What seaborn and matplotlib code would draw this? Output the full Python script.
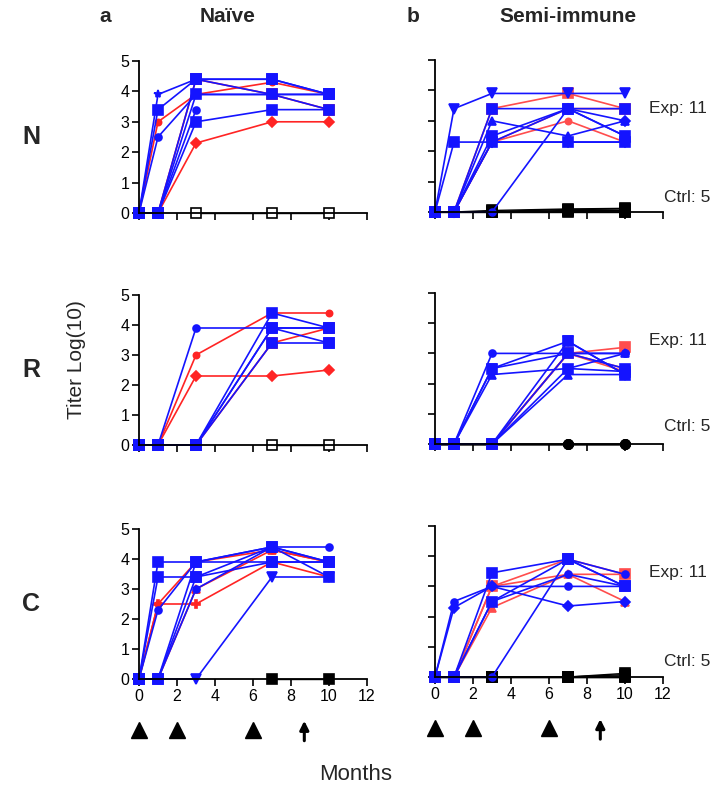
"""Antibody titer time courses, naive vs semi-immune, panels N / R / C."""
import matplotlib
matplotlib.use("Agg")
import matplotlib.pyplot as plt
import seaborn as sns

sns.set_style("ticks")
plt.rcParams["font.family"] = ["Liberation Sans", "DejaVu Sans"]

MONTHS = [0, 1, 3, 7, 10]
BOOST_MONTHS = [0, 2, 6]
CHALLENGE_MONTH = 8.7
ROWS = ["N", "R", "C"]
GROUPS = ["Naïve", "Semi-immune"]
PANEL_LETTERS = ["a", "b"]
EXP_LABEL = "Exp: 11"
CTRL_LABEL = "Ctrl: 5"

# --- naive, N ---
naive_n_blue = [
    [0, 3.9, 4.4, 3.9, 3.4],
    [0, 3.4, 4.4, 4.4, 3.9],
    [0, 2.5, 3.9, 3.9, 3.9],
    [0, 0, 4.4, 4.4, 3.9],
    [0, 0, 3.9, 3.9, 3.9],
    [0, 0, 3.4, None, None],
    [0, 0, 3.0, 3.4, 3.4],
]
naive_n_red = [
    [0, 3.0, 3.9, 4.3, 3.9],
    [0, 0, 4.4, 3.9, 3.4],
    [0, 0, 2.3, 3.0, 3.0],
]
naive_n_ctrl = [[None, None, 0, 0, 0]]

# --- semi-immune, N ---
semi_n_blue = [
    [0, 3.4, 3.9, 3.9, 3.9],
    [0, 2.3, 2.3, 2.3, 2.3],
    [0, 0, 3.4, 3.4, 3.4],
    [0, 0, 3.0, 2.5, 3.0],
    [0, 0, 2.5, 3.4, 2.5],
    [0, 0, 2.3, 3.4, 3.0],
    [0, 0, 2.3, 2.3, 2.3],
    [0, 0, 0, 3.4, 2.5],
]
semi_n_red = [
    [0, 0, 3.4, 3.9, 3.4],
    [0, 0, 2.3, 3.0, 2.3],
    [0, 0, 2.3, 3.4, 3.4],
]
semi_n_ctrl = [
    [0, 0, 0.05, 0.1, 0.12],
    [0, 0, 0.02, 0.08, 0.1],
    [0, 0, 0, 0.05, 0.05],
    [0, 0, 0, 0.02, 0],
    [0, 0, 0, 0, 0],
]

# --- naive, R ---
naive_r_blue = [
    [0, 0, 3.9, 3.9, 3.9],
    [0, 0, 0, 4.4, 3.9],
    [0, 0, 0, 3.9, 3.4],
    [0, 0, 0, 3.4, 3.4],
    [0, 0, 0, 3.9, 3.9],
]
naive_r_red = [
    [0, 0, 3.0, 4.4, 4.4],
    [0, 0, 2.3, 2.3, 2.5],
    [0, 0, 0, 3.4, 3.9],
]
naive_r_ctrl = [[None, None, None, 0, 0]]

# --- semi-immune, R ---
semi_r_blue = [
    [0, 0, 3.0, 3.0, 3.0],
    [0, 0, 2.5, 3.4, 2.3],
    [0, 0, 2.5, 3.0, 2.5],
    [0, 0, 2.3, 2.5, 3.0],
    [0, 0, 0, 3.4, 2.3],
    [0, 0, 0, 2.3, 2.3],
    [0, 0, 0, 2.5, 2.4],
    [0, 0, 0, 3.0, 3.0],
]
semi_r_red = [
    [0, 0, 0, 3.0, 3.2],
    [0, 0, 0, 3.0, 2.4],
    [0, 0, 0, 3.0, 2.5],
]
semi_r_ctrl = [[0, 0, 0, 0, 0]] * 5

# --- naive, C ---
naive_c_blue = [
    [0, 3.9, 3.9, 3.9, 3.9],
    [0, 3.4, 3.4, 4.4, 3.9],
    [0, 2.3, 3.9, 4.4, 4.4],
    [0, 0, 3.9, 4.4, 3.4],
    [0, 0, 3.4, 3.9, 3.9],
    [0, 0, 3.0, 4.4, 3.9],
    [0, 0, 0, 3.4, 3.4],
]
naive_c_red = [
    [0, 2.5, 3.9, 4.3, 3.9],
    [0, 2.5, 2.5, 3.9, 3.4],
    [0, 0, 3.0, 4.3, 3.9],
]
naive_c_ctrl = [[None, None, None, 0, 0]]

# --- semi-immune, C ---
semi_c_blue = [
    [0, 2.5, 3.0, 3.0, 3.0],
    [0, 2.3, 3.0, 2.35, 2.5],
    [0, 0, 3.45, 3.9, 3.0],
    [0, 0, 2.5, 3.4, 3.0],
    [0, 0, 2.5, 3.9, 3.0],
    [0, 0, 0, 3.9, 3.4],
]
semi_c_red = [
    [0, 0, 3.0, 3.9, 3.4],
    [0, 0, 2.3, 3.4, 2.5],
    [0, 0, 3.0, 3.4, 3.4],
]
semi_c_ctrl = [
    [0, 0, 0, 0, 0.12],
    [0, 0, 0, 0, 0.08],
    [0, 0, 0, 0, 0.04],
    [0, 0, 0, 0, 0],
    [0, 0, 0, 0, 0],
]

PANELS = [
    [(naive_n_blue, naive_n_red, naive_n_ctrl), (semi_n_blue, semi_n_red, semi_n_ctrl)],
    [(naive_r_blue, naive_r_red, naive_r_ctrl), (semi_r_blue, semi_r_red, semi_r_ctrl)],
    [(naive_c_blue, naive_c_red, naive_c_ctrl), (semi_c_blue, semi_c_red, semi_c_ctrl)],
]

# marker style per line (blue list, red list), same order as the data
MARKERS = [
    [(["*", "s", "o", "s", "s", "o", "s"], ["o", "s", "D"]),
     (["v", "s", "s", "^", "s", "D", "D", "o"], ["s", "o", "o"])],
    [(["o", "s", "s", "s", "s"], ["o", "D", "s"]),
     (["o", "v", "s", "^", "s", "^", "s", "o"], ["s", "o", "^"])],
    [(["s", "s", "o", "s", "s", "o", "v"], ["o", "P", "^"]),
     (["o", "D", "s", "o", "s", "o"], ["s", "^", "o"])],
]
SMALL = {"o": 5, "*": 6, "P": 6, "D": 5.5, "^": 6, "v": 6.5, "s": 7}

BLUE = "#1414ff"
RED = "#ff2424"
RED_LIGHT = "#ff4d4d"


def draw_line(ax, values, color, marker, ms=6, mfc=None, mec=None, lw=1.2):
    pts = [(m, v) for m, v in zip(MONTHS, values) if v is not None]
    xs = [p[0] for p in pts]
    ys = [p[1] for p in pts]
    sns.lineplot(
        x=xs, y=ys, ax=ax, color=color, marker=marker, markersize=ms,
        markerfacecolor=mfc or color, markeredgecolor=mec or color,
        markeredgewidth=1.2, linewidth=lw, errorbar=None, sort=False,
        clip_on=False,
    )


W, H = 711, 791
fig = plt.figure(figsize=(W / 100, H / 100), dpi=100)

col_left = [139, 435]
row_top = [[(61, 213), (295, 445), (529, 679)],
           [(60, 212), (293, 444), (526, 677)]]
ax_w = 228
exp_y = [108, 341, 572]
ctrl_y = [197, 427, 661]

for r in range(3):
    for c, left in enumerate(col_left):
        top, bottom = row_top[c][r]
        ax = fig.add_axes([left / W, 1 - bottom / H, ax_w / W, (bottom - top) / H])
        blue, red, ctrl = PANELS[r][c]
        blue_m, red_m = MARKERS[r][c]
        open_ctrl = (c == 0 and r < 2)
        for vals in ctrl:
            draw_line(ax, vals, "black", "o" if (c == 1 and r == 1) else "s",
                      ms=6.5, mfc="white" if open_ctrl else "black",
                      mec="black", lw=1.0)
        for vals, m in zip(red, red_m):
            draw_line(ax, vals, RED if c == 0 else RED_LIGHT, m, ms=SMALL[m] - 0.5, lw=1.2)
        for vals, m in zip(blue, blue_m):
            draw_line(ax, vals, BLUE, m, ms=SMALL[m])

        ax.set_xlim(0, 12)
        ax.set_ylim(0, 5)
        ax.set_xticks(range(0, 13, 2))
        ax.set_yticks(range(0, 6))
        sns.despine(ax=ax)
        for side in ["left", "bottom"]:
            ax.spines[side].set_linewidth(1.3)
            ax.spines[side].set_color("black")
        ax.tick_params(length=5, width=1.2, labelsize=11.5, pad=2, colors="black")
        if c == 1:
            ax.set_yticklabels([])
        if r < 2:
            ax.set_xticklabels([])
        ax.set_xlabel("")
        ax.set_ylabel("")

        if c == 1:
            fig.text(678 / W, 1 - exp_y[r] / H, EXP_LABEL, ha="center", va="center", fontsize=12.5)
            fig.text(687 / W, 1 - ctrl_y[r] / H, CTRL_LABEL, ha="center", va="center", fontsize=12.5)
        else:
            fig.text(31 / W, 1 - (top + bottom) / 2 / H, ROWS[r], ha="center", va="center",
                     fontsize=18, fontweight="bold")

        if r == 2:
            ax.plot(BOOST_MONTHS, [-1.7] * len(BOOST_MONTHS), "^", color="black",
                    markersize=12, clip_on=False)
            ax.annotate("", xy=(CHALLENGE_MONTH, -1.3), xytext=(CHALLENGE_MONTH, -2.15),
                        arrowprops=dict(arrowstyle="-|>", color="black", lw=2.2,
                                        mutation_scale=13),
                        annotation_clip=False)

fig.text(105 / W, 1 - 17 / H, PANEL_LETTERS[0], ha="center", va="center", fontsize=15, fontweight="bold")
fig.text(228 / W, 1 - 17 / H, GROUPS[0], ha="center", va="center", fontsize=15, fontweight="bold")
fig.text(413 / W, 1 - 17 / H, PANEL_LETTERS[1], ha="center", va="center", fontsize=15, fontweight="bold")
fig.text(568 / W, 1 - 17 / H, GROUPS[1], ha="center", va="center", fontsize=15, fontweight="bold")
fig.text(77 / W, 1 - 360 / H, "Titer Log(10)", ha="center", va="center", rotation=90, fontsize=15)
fig.text(356 / W, 1 - 775 / H, "Months", ha="center", va="center", fontsize=16)

fig.savefig("out.png", dpi=100)
plt.close(fig)
